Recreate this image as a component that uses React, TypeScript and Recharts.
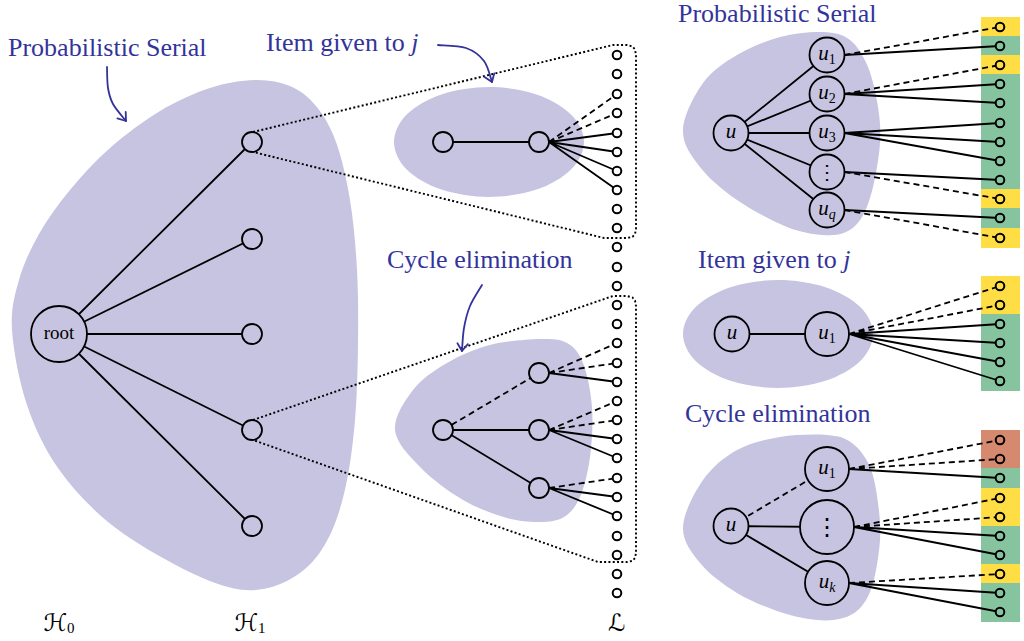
import { ScatterChart, Scatter, XAxis, YAxis } from 'recharts';

type Pt = { x: number; y: number };
type Style = 'solid' | 'dash';
type Link = [number, Style];

const W = 1024;
const H = 641;
const SERIF = '"Liberation Serif", "DejaVu Serif", serif';
const BLUE = '#33339b';
const LAVENDER = '#c6c4e1';
const CELL_COLORS: Record<string, string> = { y: '#ffdd44', g: '#86c49f', r: '#d5896f', w: '#ffffff' };
const RADIUS: Record<string, number> = { root: 28, small: 10, u: 17.5, big: 22, huge: 27 };
const LEAF_R = 4.3;
const CELL_HALF = 9.6;
const CELL_LEFT = 981;
const CELL_RIGHT = 1020;

// ---------- left: the layered tree H0 / H1 / L ----------
const rootNode = { x: 59, y: 334 };
const layerOneX = 252;
const layerOneY = [142, 239, 334, 430, 526];
const leafColX = 617;
const leafColY = [55, 74, 94, 113, 133, 152, 171, 190, 209, 228, 247, 267, 286, 305, 324, 343, 363, 382, 401, 420, 439, 458, 478, 497, 516, 536, 555, 574, 593];

// zoom on the top H1 node (item given to j)
const itemPair = [{ x: 443, y: 142 }, { x: 539, y: 142 }];
const itemLinks: Link[] = [[2, 'dash'], [3, 'dash'], [4, 'solid'], [5, 'solid'], [6, 'solid'], [7, 'solid']];

// zoom on the fourth H1 node (cycle elimination)
const cycleRoot = { x: 443, y: 430 };
const cycleKidX = 539;
const cycleKidY = [373, 430, 488];
const cycleKidStyle: Style[] = ['dash', 'solid', 'solid'];
const cycleLinks: Link[][] = [
  [[15, 'dash'], [16, 'dash'], [17, 'solid']],
  [[18, 'dash'], [19, 'dash'], [20, 'solid'], [21, 'solid']],
  [[22, 'dash'], [23, 'solid'], [24, 'solid']],
];

// ---------- right: the three local pictures ----------
const rightLeafX = 1000;

const serialRoot = { x: 731, y: 133 };
const serialKids = [
  { x: 827, y: 55, text: 'u', sub: '1' },
  { x: 827, y: 94, text: 'u', sub: '2' },
  { x: 827, y: 133, text: 'u', sub: '3' },
  { x: 827, y: 172, text: '⋮', sub: '' },
  { x: 827, y: 210, text: 'u', sub: 'q' },
];
const serialLeafY = [27, 46, 65, 84, 103, 123, 142, 161, 180, 199, 218, 238];
const serialCells = ['y', 'g', 'y', 'g', 'g', 'g', 'g', 'g', 'g', 'y', 'g', 'y'];
const serialLinks: Link[][] = [
  [[0, 'dash'], [1, 'solid']],
  [[2, 'dash'], [3, 'solid'], [4, 'solid']],
  [[5, 'solid'], [6, 'solid'], [7, 'solid']],
  [[8, 'solid'], [9, 'dash']],
  [[10, 'solid'], [11, 'dash']],
];

const givenRoot = { x: 732, y: 334 };
const givenKid = { x: 827, y: 334 };
const givenLeafY = [286, 305, 324, 343, 362, 381];
const givenCells = ['y', 'y', 'g', 'g', 'g', 'g'];
const givenLinks: Link[] = [[0, 'dash'], [1, 'dash'], [2, 'solid'], [3, 'solid'], [4, 'solid'], [5, 'solid']];

const elimRoot = { x: 731, y: 526 };
const elimKids = [
  { x: 827, y: 469, text: 'u', sub: '1', kind: 'big' },
  { x: 827, y: 527, text: '⋮', sub: '', kind: 'huge' },
  { x: 827, y: 583, text: 'u', sub: 'k', kind: 'big' },
];
const elimKidStyle: Style[] = ['dash', 'solid', 'solid'];
const elimLeafY = [440, 459, 478, 498, 517, 536, 555, 574, 593, 612];
const elimCells = ['r', 'r', 'g', 'y', 'y', 'g', 'g', 'y', 'g', 'g'];
const elimLinks: Link[][] = [
  [[0, 'dash'], [1, 'dash'], [2, 'solid']],
  [[3, 'dash'], [4, 'dash'], [5, 'solid'], [6, 'solid']],
  [[7, 'dash'], [8, 'solid'], [9, 'solid']],
];

// ---------- shaded regions (outline points, smoothed) ----------
const bigBlob = [
  { x: 12, y: 330 }, { x: 19, y: 280 }, { x: 39, y: 234 }, { x: 70, y: 190 }, { x: 110, y: 148 },
  { x: 160, y: 111 }, { x: 210, y: 88 }, { x: 255, y: 80 }, { x: 290, y: 86 }, { x: 316, y: 106 },
  { x: 336, y: 142 }, { x: 350, y: 200 }, { x: 357, y: 270 }, { x: 358, y: 345 }, { x: 355, y: 420 },
  { x: 346, y: 485 }, { x: 330, y: 535 }, { x: 305, y: 569 }, { x: 268, y: 588 }, { x: 228, y: 587 },
  { x: 172, y: 563 }, { x: 108, y: 522 }, { x: 58, y: 468 }, { x: 27, y: 405 },
];
const itemBlob = [
  { x: 584, y: 142 }, { x: 571, y: 169.5 }, { x: 536.5, y: 189.6 }, { x: 489, y: 197 }, { x: 441.5, y: 189.6 },
  { x: 406.7, y: 169.5 }, { x: 394, y: 142 }, { x: 406.7, y: 114.5 }, { x: 441.5, y: 94.4 }, { x: 489, y: 87 },
  { x: 536.5, y: 94.4 }, { x: 571, y: 114.5 },
];
const cycleBlob = [
  { x: 395, y: 430 }, { x: 413, y: 390 }, { x: 447, y: 363 }, { x: 490, y: 345 }, { x: 540, y: 339 },
  { x: 567, y: 343 }, { x: 583, y: 363 }, { x: 592, y: 407 }, { x: 590, y: 457 }, { x: 580, y: 497 },
  { x: 564, y: 517 }, { x: 540, y: 522 }, { x: 507, y: 518 }, { x: 463, y: 500 }, { x: 420, y: 467 },
];
const serialBlob = [
  { x: 683, y: 130 }, { x: 703, y: 83 }, { x: 737, y: 55 }, { x: 780, y: 37 }, { x: 823, y: 32 },
  { x: 850, y: 40 }, { x: 868, y: 67 }, { x: 878, y: 107 }, { x: 880, y: 143 }, { x: 873, y: 187 },
  { x: 862, y: 217 }, { x: 846, y: 232 }, { x: 823, y: 235 }, { x: 787, y: 227 }, { x: 737, y: 200 }, { x: 700, y: 167 },
];
const givenBlob = [
  { x: 873, y: 334 }, { x: 860.3, y: 361 }, { x: 825.5, y: 380.8 }, { x: 778, y: 388 }, { x: 730.5, y: 380.8 },
  { x: 695.7, y: 361 }, { x: 683, y: 334 }, { x: 695.7, y: 307 }, { x: 730.5, y: 287.2 }, { x: 778, y: 280 },
  { x: 825.5, y: 287.2 }, { x: 860.3, y: 307 },
];
const elimBlob = [
  { x: 683, y: 527 }, { x: 703, y: 480 }, { x: 737, y: 450 }, { x: 780, y: 437 }, { x: 827, y: 435 },
  { x: 852, y: 443 }, { x: 870, y: 467 }, { x: 878, y: 503 }, { x: 880, y: 540 }, { x: 873, y: 583 },
  { x: 861, y: 607 }, { x: 843, y: 618 }, { x: 817, y: 620 }, { x: 780, y: 612 }, { x: 737, y: 593 }, { x: 700, y: 563 },
];

// ---------- dotted zoom outlines ----------
const zoomTop = [
  { x: 253, y: 132 }, { x: 613, y: 45 }, { x: 627, y: 45 }, { x: 632.5, y: 46.5 }, { x: 635, y: 49.5 }, { x: 636, y: 55 },
  { x: 636, y: 229 }, { x: 635, y: 234 }, { x: 632.5, y: 236.8 }, { x: 627, y: 238 }, { x: 604, y: 238 }, { x: 253, y: 152 },
];
const zoomLow = [
  { x: 253, y: 420 }, { x: 613, y: 296 }, { x: 627, y: 296 }, { x: 632.5, y: 297.5 }, { x: 635, y: 300.5 }, { x: 636, y: 306 },
  { x: 636, y: 553 }, { x: 635, y: 558 }, { x: 632.5, y: 560.8 }, { x: 627, y: 562 }, { x: 598, y: 562 }, { x: 253, y: 440 },
];

// ---------- annotation arrows ----------
const arrows = [
  [{ x: 107, y: 67 }, { x: 108, y: 88 }, { x: 113, y: 104 }, { x: 126, y: 121 }],
  [{ x: 438, y: 45 }, { x: 466, y: 48 }, { x: 484, y: 61 }, { x: 492, y: 82 }],
  [{ x: 482, y: 285 }, { x: 470, y: 306 }, { x: 464, y: 328 }, { x: 462, y: 351 }],
];

const titles = [
  { x: 8, y: 56, text: 'Probabilistic Serial', em: '' },
  { x: 266, y: 51, text: 'Item given to ', em: 'j' },
  { x: 387, y: 268, text: 'Cycle elimination', em: '' },
  { x: 678, y: 22, text: 'Probabilistic Serial', em: '' },
  { x: 698, y: 268, text: 'Item given to ', em: 'j' },
  { x: 685, y: 422, text: 'Cycle elimination', em: '' },
];

const layerNames = [
  { x: 59, y: 631, text: 'ℋ', sub: '0' },
  { x: 250, y: 631, text: 'ℋ', sub: '1' },
  { x: 617, y: 631, text: 'ℒ', sub: '' },
];

// ---------- assemble marks ----------
const solid: Pt[] = [];
const dashed: Pt[] = [];
const link = (a: Pt, b: Pt, s: Style) => (s === 'dash' ? dashed : solid).push({ x: a.x, y: a.y }, { x: b.x, y: b.y });
const east = (p: Pt, kind: string) => ({ x: p.x + RADIUS[kind], y: p.y });

type NodeMark = { x: number; y: number; kind: string };
type LeafMark = { x: number; y: number; cell: string };
type LabelMark = { x: number; y: number; text: string; sub: string; plain?: boolean; kind?: string };

const nodes: NodeMark[] = [];
const leaves: LeafMark[] = [];
const labels: LabelMark[] = [];
const cells: { color: string }[] = [];
const cellCorners: Pt[] = [];

nodes.push({ ...rootNode, kind: 'root' });
labels.push({ ...rootNode, text: 'root', sub: '', plain: true });
layerOneY.forEach((y) => {
  link(rootNode, { x: layerOneX, y }, 'solid');
  nodes.push({ x: layerOneX, y, kind: 'small' });
});
leafColY.forEach((y) => leaves.push({ x: leafColX, y, cell: 'w' }));

link(itemPair[0], itemPair[1], 'solid');
itemPair.forEach((p) => nodes.push({ ...p, kind: 'small' }));
itemLinks.forEach(([i, s]) => link(east(itemPair[1], 'small'), { x: leafColX, y: leafColY[i] }, s));

nodes.push({ ...cycleRoot, kind: 'small' });
cycleKidY.forEach((y, k) => {
  const kid = { x: cycleKidX, y };
  link(cycleRoot, kid, cycleKidStyle[k]);
  nodes.push({ ...kid, kind: 'small' });
  cycleLinks[k].forEach(([i, s]) => link(east(kid, 'small'), { x: leafColX, y: leafColY[i] }, s));
});

const addColumn = (ys: number[], colors: string[]) => {
  ys.forEach((y, i) => {
    leaves.push({ x: rightLeafX, y, cell: colors[i] });
    cells.push({ color: CELL_COLORS[colors[i]] });
    cellCorners.push({ x: CELL_LEFT, y: y - CELL_HALF }, { x: CELL_RIGHT, y: y + CELL_HALF });
  });
};

nodes.push({ ...serialRoot, kind: 'u' });
labels.push({ ...serialRoot, text: 'u', sub: '' });
serialKids.forEach((kid, k) => {
  link(serialRoot, kid, 'solid');
  nodes.push({ x: kid.x, y: kid.y, kind: 'u' });
  labels.push(kid);
  serialLinks[k].forEach(([i, s]) => link(east(kid, 'u'), { x: rightLeafX, y: serialLeafY[i] }, s));
});
addColumn(serialLeafY, serialCells);

link(givenRoot, givenKid, 'solid');
nodes.push({ ...givenRoot, kind: 'u' }, { ...givenKid, kind: 'big' });
labels.push({ ...givenRoot, text: 'u', sub: '' }, { ...givenKid, text: 'u', sub: '1' });
givenLinks.forEach(([i, s]) => link(east(givenKid, 'big'), { x: rightLeafX, y: givenLeafY[i] }, s));
addColumn(givenLeafY, givenCells);

nodes.push({ ...elimRoot, kind: 'u' });
labels.push({ ...elimRoot, text: 'u', sub: '' });
elimKids.forEach((kid, k) => {
  link(elimRoot, kid, elimKidStyle[k]);
  nodes.push({ x: kid.x, y: kid.y, kind: kid.kind });
  labels.push(kid);
  elimLinks[k].forEach(([i, s]) => link(east(kid, kid.kind), { x: rightLeafX, y: elimLeafY[i] }, s));
});
addColumn(elimLeafY, elimCells);

// ---------- drawing helpers ----------
function smoothPath(pts: Pt[], closed: boolean) {
  const n = pts.length;
  const get = (i: number) => (closed ? pts[(i + n) % n] : pts[Math.max(0, Math.min(n - 1, i))]);
  let d = `M${pts[0].x},${pts[0].y}`;
  const segs = closed ? n : n - 1;
  for (let i = 0; i < segs; i++) {
    const p0 = get(i - 1), p1 = get(i), p2 = get(i + 1), p3 = get(i + 2);
    d += `C${p1.x + (p2.x - p0.x) / 6},${p1.y + (p2.y - p0.y) / 6} ${p2.x - (p3.x - p1.x) / 6},${p2.y - (p3.y - p1.y) / 6} ${p2.x},${p2.y}`;
  }
  return closed ? d + 'Z' : d;
}

const pairPath = (pts: Pt[]) => pts.map((p, i) => `${i % 2 ? 'L' : 'M'}${p.x},${p.y}`).join('');
const hidden = () => <g />;

const blobLine = (p: any) => <path d={smoothPath(p.points, true)} fill={LAVENDER} stroke="none" />;
const dottedLine = (p: any) => (
  <path d={p.points.map((q: Pt, i: number) => `${i ? 'L' : 'M'}${q.x},${q.y}`).join('')} fill="none" stroke="#000" strokeWidth={1.9} strokeDasharray="2 2.3" />
);
const solidLine = (p: any) => <path d={pairPath(p.points)} fill="none" stroke="#000" strokeWidth={1.8} />;
const dashLine = (p: any) => <path d={pairPath(p.points)} fill="none" stroke="#000" strokeWidth={1.8} strokeDasharray="6 4" />;
const cellLine = (p: any) => (
  <g shapeRendering="crispEdges">
    {cells.map((c, i) => {
      const a: Pt = p.points[2 * i];
      const b: Pt = p.points[2 * i + 1];
      return <rect key={i} x={a.x} y={a.y} width={b.x - a.x} height={b.y - a.y} fill={c.color} />;
    })}
  </g>
);
const arrowLine = (p: any) => {
  const pts: Pt[] = p.points;
  const a = pts[pts.length - 2];
  const b = pts[pts.length - 1];
  const ang = Math.atan2(b.y - a.y, b.x - a.x);
  const len = 9;
  const spread = 0.62;
  const h1 = { x: b.x - len * Math.cos(ang - spread), y: b.y - len * Math.sin(ang - spread) };
  const h2 = { x: b.x - len * Math.cos(ang + spread), y: b.y - len * Math.sin(ang + spread) };
  return (
    <g fill="none" stroke={BLUE} strokeWidth={1.8} strokeLinecap="round" strokeLinejoin="round">
      <path d={smoothPath(pts, false)} />
      <path d={`M${h1.x},${h1.y}L${b.x},${b.y}L${h2.x},${h2.y}`} />
    </g>
  );
};

const NodeShape = (props: any) => (
  <circle cx={props.cx} cy={props.cy} r={RADIUS[props.payload.kind]} fill={LAVENDER} stroke="#000" strokeWidth={1.8} />
);
const LeafShape = (props: any) => (
  <circle cx={props.cx} cy={props.cy} r={LEAF_R} fill={CELL_COLORS[props.payload.cell]} stroke="#000" strokeWidth={2} />
);
const NodeLabel = (props: any) => {
  const { cx, cy, payload } = props;
  if (payload.text === '⋮') {
    const big = payload.kind === 'huge';
    return (
      <text x={cx} y={cy} dy={big ? 8 : 7} textAnchor="middle" fontFamily='"DejaVu Serif", serif' fontSize={big ? 24 : 20}>
        ⋮
      </text>
    );
  }
  return (
    <text x={cx} y={cy} dy={5} textAnchor="middle" fontFamily={SERIF} fontSize={payload.plain ? 19 : 21} fontStyle={payload.plain ? 'normal' : 'italic'}>
      {payload.text}
      {payload.sub && (
        <tspan fontSize={14} dy={4} fontStyle={/\d/.test(payload.sub) ? 'normal' : 'italic'}>
          {payload.sub}
        </tspan>
      )}
    </text>
  );
};
const TitleShape = (props: any) => (
  <text x={props.cx} y={props.cy} fill={BLUE} fontFamily={SERIF} fontSize={26}>
    {props.payload.text}
    {props.payload.em && <tspan fontStyle="italic">{props.payload.em}</tspan>}
  </text>
);
const LayerName = (props: any) => (
  <text x={props.cx} y={props.cy} textAnchor="middle" fontFamily='"DejaVu Sans", serif' fontSize={24}>
    {props.payload.text}
    {props.payload.sub && (
      <tspan fontFamily={SERIF} fontSize={15} dy={2}>
        {props.payload.sub}
      </tspan>
    )}
  </text>
);

export default function App() {
  const blobs = [bigBlob, itemBlob, cycleBlob, serialBlob, givenBlob, elimBlob];
  return (
    <div style={{ position: 'absolute', left: 0, top: 0, background: '#fff' }}>
      <ScatterChart width={W} height={H} margin={{ top: 0, right: 0, bottom: 0, left: 0 }}>
        <XAxis type="number" dataKey="x" domain={[0, W]} allowDataOverflow hide />
        <YAxis type="number" dataKey="y" domain={[0, H]} allowDataOverflow reversed hide />
        {blobs.map((b, i) => (
          <Scatter key={`blob${i}`} data={b} line={blobLine} shape={hidden} isAnimationActive={false} />
        ))}
        <Scatter data={cellCorners} line={cellLine} shape={hidden} isAnimationActive={false} />
        <Scatter data={zoomTop} line={dottedLine} shape={hidden} isAnimationActive={false} />
        <Scatter data={zoomLow} line={dottedLine} shape={hidden} isAnimationActive={false} />
        <Scatter data={solid} line={solidLine} shape={hidden} isAnimationActive={false} />
        <Scatter data={dashed} line={dashLine} shape={hidden} isAnimationActive={false} />
        {arrows.map((a, i) => (
          <Scatter key={`arrow${i}`} data={a} line={arrowLine} shape={hidden} isAnimationActive={false} />
        ))}
        <Scatter data={nodes} shape={NodeShape} isAnimationActive={false} />
        <Scatter data={leaves} shape={LeafShape} isAnimationActive={false} />
        <Scatter data={labels} shape={NodeLabel} isAnimationActive={false} />
        <Scatter data={titles} shape={TitleShape} isAnimationActive={false} />
        <Scatter data={layerNames} shape={LayerName} isAnimationActive={false} />
      </ScatterChart>
    </div>
  );
}
